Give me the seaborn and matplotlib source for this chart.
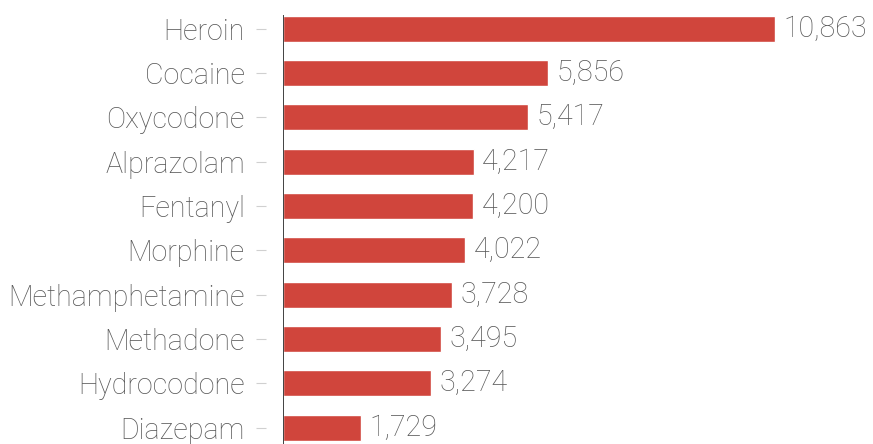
import matplotlib
matplotlib.use("Agg")
import matplotlib.pyplot as plt
import seaborn as sns
import pandas as pd

drugs = ["Heroin", "Cocaine", "Oxycodone", "Alprazolam", "Fentanyl",
         "Morphine", "Methamphetamine", "Methadone", "Hydrocodone", "Diazepam"]
deaths = [10863, 5856, 5417, 4217, 4200, 4022, 3728, 3495, 3274, 1729]

df = pd.DataFrame({"drug": drugs, "deaths": deaths})

sns.set_theme(style="white")
plt.rcParams["font.family"] = ["Roboto", "DejaVu Sans"]

BAR = "#d0453c"
TEXT = "#585858"
FS = 20.6

fig = plt.figure(figsize=(8.73, 4.44), dpi=100)
ax = fig.add_axes([283 / 873, 0.0, 590 / 873, 429 / 444])

sns.barplot(data=df, x="deaths", y="drug", orient="h", color=BAR,
            saturation=1, width=0.59, ax=ax)

ax.set_xlim(0, 13024)
ax.set_ylim(len(drugs) - 0.63, -0.31)
ax.set_xlabel("")
ax.set_ylabel("")
ax.set_xticks([])

for s in ["top", "right", "bottom"]:
    ax.spines[s].set_visible(False)
# ticks sit a little left of the axis line
ax.spines["left"].set_position(("outward", 12))
ax.spines["left"].set_visible(False)
ax.axvline(0, color="#333333", lw=1.3, zorder=5)

ax.tick_params(axis="y", left=True, length=7.5, width=0.8, color="#d0d0d0",
               pad=8, labelsize=FS, labelcolor=TEXT)
for lab in ax.get_yticklabels():
    lab.set_fontweight("light")

for i, v in enumerate(deaths):
    ax.annotate(f"{v:,}", xy=(v, i), xytext=(6, 0), textcoords="offset points",
                va="center", ha="left", fontsize=FS, color=TEXT,
                fontweight="light")

fig.savefig("out.png", dpi=100)
